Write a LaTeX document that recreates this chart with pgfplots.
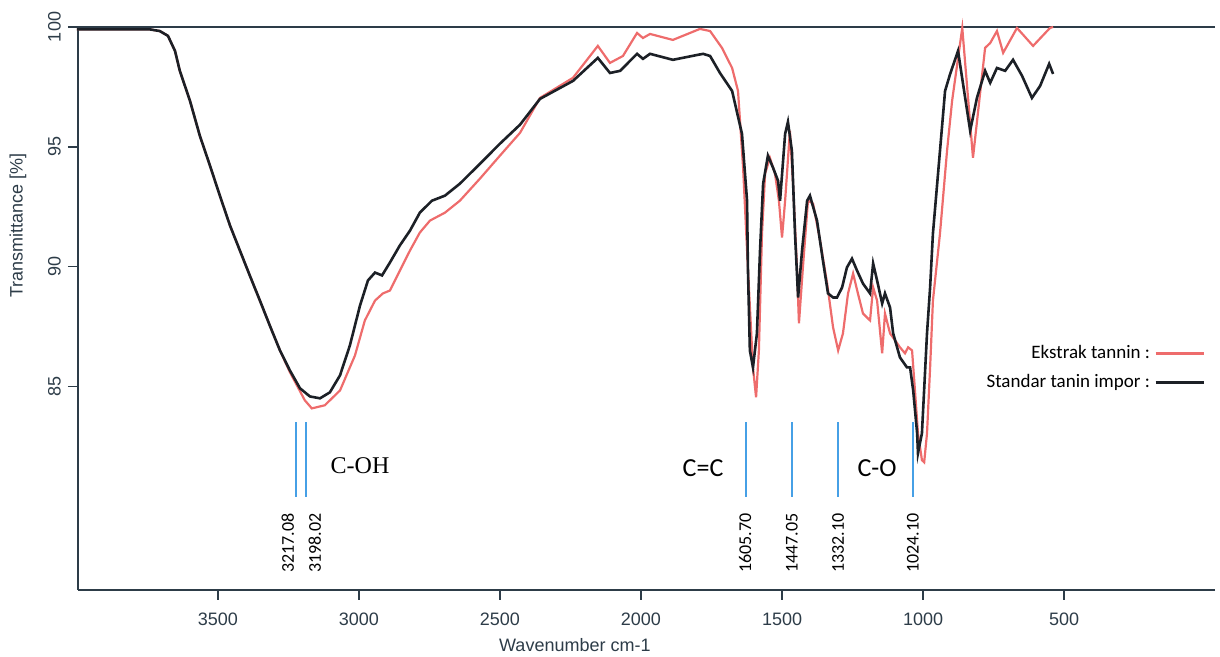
\documentclass[border=0pt]{standalone}
\usepackage{pgfplots}
\pgfplotsset{compat=1.18}
\usepackage{fontspec}
\setmainfont{Liberation Sans}
\newfontfamily\annfont{Liberation Serif}
\newfontfamily\calfont{Carlito}

\definecolor{axiscol}{RGB}{45,60,72}
\definecolor{ekstrak}{RGB}{238,108,108}
\definecolor{standar}{RGB}{28,32,38}
\definecolor{peakblue}{RGB}{70,160,230}

\pgfplotstableread{
w v
4000 99.9
3741 99.9
3706 99.83
3677 99.63
3652 99.0
3635 98.17
3599 96.92
3564 95.46
3528 94.21
3493 92.96
3457 91.71
3422 90.67
3387 89.63
3351 88.58
3316 87.54
3280 86.5
3245 85.6
3209 84.8
3192 84.42
3167 84.08
3121 84.21
3067 84.83
3014 86.29
2979 87.75
2943 88.58
2915 88.88
2890 89.0
2855 89.83
2819 90.67
2784 91.42
2748 91.92
2695 92.25
2642 92.75
2571 93.67
2500 94.63
2429 95.58
2358 97.04
2241 97.88
2153 99.21
2110 98.5
2064 98.79
2014 99.75
1993 99.54
1968 99.71
1887 99.46
1791 99.92
1755 99.83
1713 99.13
1677 98.29
1656 97.33
1638 94.13
1621 89.96
1603 85.79
1592 84.54
1582 86.5
1571 91.38
1560 93.88
1543 94.54
1525 93.88
1511 92.75
1500 91.21
1489 92.75
1472 95.67
1461 93.46
1447 89.96
1440 87.63
1426 89.96
1408 92.75
1390 92.63
1365 91.08
1340 89.29
1319 87.46
1301 86.5
1284 87.21
1266 88.88
1248 89.71
1231 88.88
1213 88.04
1188 87.75
1177 89.13
1163 88.58
1145 86.38
1135 88.04
1117 87.21
1099 86.92
1082 86.63
1064 86.38
1053 86.63
1039 86.5
1028 84.71
1018 83.04
1004 81.92
996 81.83
986 83.04
975 85.79
965 88.58
940 91.38
915 94.83
897 96.92
861 99.96
823 94.54
780 99.13
762 99.33
738 99.83
716 98.92
667 99.96
610 99.21
550 99.96
539 100.0
}\ekstrak

\pgfplotstableread{
w v
4000 99.9
3741 99.9
3706 99.83
3677 99.63
3652 99.0
3635 98.17
3599 96.92
3564 95.46
3528 94.21
3493 92.96
3457 91.71
3422 90.67
3387 89.63
3351 88.58
3316 87.54
3280 86.5
3245 85.67
3209 84.92
3174 84.58
3138 84.5
3103 84.75
3067 85.46
3032 86.71
2996 88.38
2968 89.42
2943 89.75
2918 89.63
2890 90.17
2855 90.88
2819 91.5
2784 92.25
2741 92.75
2695 92.96
2642 93.46
2571 94.29
2500 95.13
2429 95.92
2358 97.0
2241 97.75
2153 98.71
2110 98.08
2074 98.17
2014 98.88
1993 98.67
1968 98.88
1887 98.63
1780 98.88
1755 98.79
1720 98.08
1677 97.33
1642 95.54
1624 92.75
1621 89.96
1614 86.5
1603 85.79
1589 87.21
1578 90.67
1567 93.46
1550 94.63
1532 94.13
1514 93.58
1507 92.75
1489 95.54
1479 96.04
1465 94.83
1454 91.38
1443 88.71
1429 90.67
1411 92.75
1401 92.96
1376 91.92
1355 90.25
1337 88.88
1319 88.71
1305 88.71
1287 89.13
1270 89.96
1252 90.33
1234 89.83
1213 89.29
1188 88.88
1177 90.13
1163 89.42
1145 88.46
1135 88.88
1117 88.29
1106 87.21
1082 86.21
1057 85.79
1046 85.79
1035 84.83
1021 83.04
1018 82.21
1004 83.04
986 87.21
975 89.13
965 91.38
940 94.83
922 97.33
904 98.04
876 99.0
833 95.67
809 97.04
780 98.17
762 97.67
738 98.29
709 98.17
681 98.63
649 97.96
614 97.04
585 97.54
553 98.46
539 98.04
}\standar

\begin{document}
\begin{tikzpicture}
\begin{axis}[
  at={(0pt,0pt)}, anchor=south west,
  scale only axis, width=568.5pt, height=281.5pt,
  x dir=reverse, xmin=-35, xmax=3996, ymin=76.5, ymax=100,
  axis x line=box, axis y line=left,
  axis line style={axiscol, line width=0.9pt, -},
  xtick={500,1000,...,3500}, ytick={85,90,95,100},
  xtick pos=left, ytick pos=left,
  tick align=outside, major tick length=5pt,
  tick style={axiscol, line width=0.8pt},
  /pgf/number format/assume math mode=true,
  /pgf/number format/set thousands separator={},
  ticklabel style={font=\fontsize{9}{10}\selectfont, text=axiscol},
  xticklabel style={yshift=-3pt},
  yticklabel style={rotate=90, anchor=south},
  xlabel={Wavenumber cm-1}, ylabel={Transmittance [\%]},
  label style={font=\fontsize{9}{10}\selectfont, text=axiscol},
  xlabel style={at={(axis description cs:0.437,0)}, anchor=center, yshift=-27.5pt},
  ylabel style={at={(axis description cs:-0.0528,0.648)}, anchor=center},
  clip=false,
  legend plot pos=right,
  legend cell align=right,
  legend style={draw=none, fill=none, at={(axis description cs:0.997,0.394)}, anchor=east,
    font=\calfont\fontsize{9.5}{11}\selectfont, row sep=2.5pt},
  legend image code/.code={\draw[#1, line width=1.6pt] (0pt,0pt) -- (24pt,0pt);},
]
\addplot[ekstrak, line width=1.1pt] table[x=w, y=v] {\ekstrak};
\addlegendentry{Ekstrak tannin :}
\addplot[standar, line width=1.3pt] table[x=w, y=v] {\standar};
\addlegendentry{Standar tanin impor :}

\addplot[peakblue, line width=1pt, forget plot] coordinates {(3223,80.4) (3223,83.5)};
\addplot[peakblue, line width=1pt, forget plot] coordinates {(3188,80.4) (3188,83.5)};
\addplot[peakblue, line width=1pt, forget plot] coordinates {(1628,80.4) (1628,83.5)};
\addplot[peakblue, line width=1pt, forget plot] coordinates {(1465,80.4) (1465,83.5)};
\addplot[peakblue, line width=1pt, forget plot] coordinates {(1301,80.4) (1301,83.5)};
\addplot[peakblue, line width=1pt, forget plot] coordinates {(1036,80.4) (1036,83.5)};

\node[rotate=90, font=\calfont\fontsize{9}{10}\selectfont] at (axis cs:3252,78.46) {3217.08};
\node[rotate=90, font=\calfont\fontsize{9}{10}\selectfont] at (axis cs:3156,78.46) {3198.02};
\node[rotate=90, font=\calfont\fontsize{9}{10}\selectfont] at (axis cs:1631,78.46) {1605.70};
\node[rotate=90, font=\calfont\fontsize{9}{10}\selectfont] at (axis cs:1465,78.46) {1447.05};
\node[rotate=90, font=\calfont\fontsize{9}{10}\selectfont] at (axis cs:1301,78.46) {1332.10};
\node[rotate=90, font=\calfont\fontsize{9}{10}\selectfont] at (axis cs:1036,78.46) {1024.10};

\node[font=\annfont\fontsize{12}{13}\selectfont] at (axis cs:2996,81.7) {C-OH};
\node[font=\calfont\fontsize{13}{14}\selectfont] at (axis cs:1780,81.6) {C=C};
\node[font=\calfont\fontsize{13}{14}\selectfont] at (axis cs:1163,81.6) {C-O};
\end{axis}
\pgfresetboundingbox
\useasboundingbox (-39pt,-33.5pt) rectangle (571pt,295pt);
\end{tikzpicture}
\end{document}
